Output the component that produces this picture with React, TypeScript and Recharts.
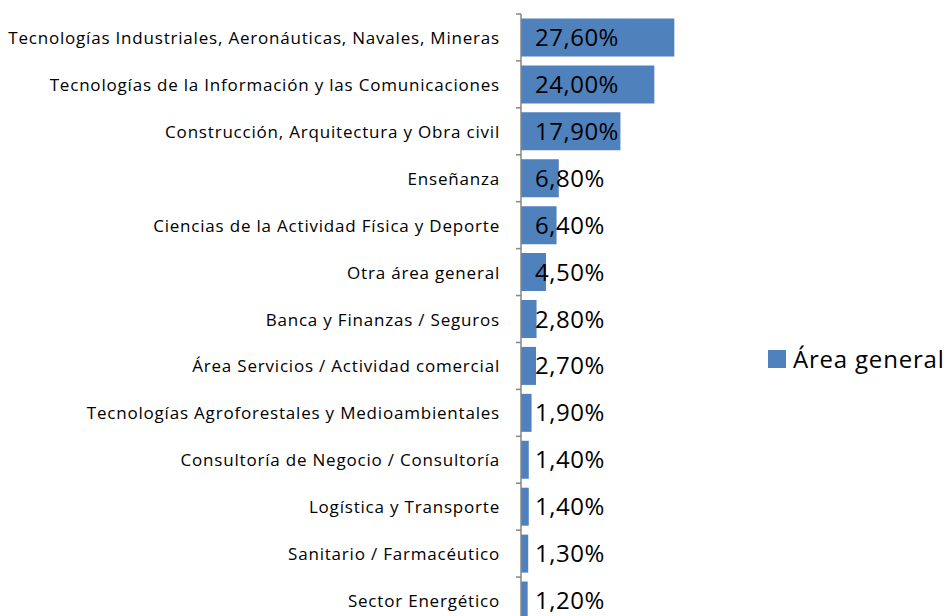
import { Bar, BarChart, LabelList, Legend, XAxis, YAxis } from "recharts";

const categories = [
  "Tecnologías Industriales, Aeronáuticas, Navales, Mineras",
  "Tecnologías de la Información y las Comunicaciones",
  "Construcción, Arquitectura y Obra civil",
  "Enseñanza",
  "Ciencias de la Actividad Física y Deporte",
  "Otra área general",
  "Banca y Finanzas / Seguros",
  "Área Servicios / Actividad comercial",
  "Tecnologías Agroforestales y Medioambientales",
  "Consultoría de Negocio / Consultoría",
  "Logística y Transporte",
  "Sanitario / Farmacéutico",
  "Sector Energético",
];

const areaGeneral = [27.6, 24.0, 17.9, 6.8, 6.4, 4.5, 2.8, 2.7, 1.9, 1.4, 1.4, 1.3, 1.2];

const seriesName = "Área general";

const FONT = "'Open Sans', 'Liberation Sans', sans-serif";
const BLUE = "#4f81bd";
const AXIS_GREY = "#868686";

const W = 949;
const H = 640;
const M = { top: 14, right: 208, bottom: 16, left: 0 };
const AXIS_W = 521;
const BAND = (H - M.top - M.bottom) / categories.length;

const data = categories.map((name, i) => ({ name, value: areaGeneral[i] }));

const fmt = (v: number) => `${v.toFixed(2).replace(".", ",")}%`;

// category label + excel style tick mark on the band boundary
function CatTick(props: any) {
  const { x, y, payload } = props;
  const ax = M.left + AXIS_W;
  return (
    <g>
      <line x1={ax - 5} x2={ax} y1={y - BAND / 2} y2={y - BAND / 2} stroke={AXIS_GREY} strokeWidth={1.5} />
      {payload.index === categories.length - 1 && (
        <line x1={ax - 5} x2={ax} y1={y + BAND / 2} y2={y + BAND / 2} stroke={AXIS_GREY} strokeWidth={1.5} />
      )}
      <text
        x={x}
        y={y}
        textAnchor="end"
        dominantBaseline="central"
        fill="#000"
        fontSize={17}
        letterSpacing={0.8}
        fontFamily={FONT}
      >
        {payload.value}
      </text>
    </g>
  );
}

function LegendBox() {
  return (
    <div
      style={{
        display: "flex",
        alignItems: "center",
        fontFamily: FONT,
        fontSize: 24,
        letterSpacing: 0.8,
        color: "#000",
        whiteSpace: "nowrap",
      }}
    >
      <span style={{ width: 18, height: 18, background: BLUE, display: "inline-block", marginRight: 7 }} />
      <span>{seriesName}</span>
    </div>
  );
}

export default function App() {
  return (
    <div style={{ position: "fixed", left: 0, top: 0, width: W, height: 616, overflow: "hidden", background: "#fff" }}>
      <BarChart width={W} height={H} data={data} layout="vertical" margin={M} barCategoryGap="9.5%">
        <XAxis type="number" hide domain={[0, 39.6]} />
        <YAxis
          type="category"
          dataKey="name"
          width={AXIS_W}
          axisLine={{ stroke: AXIS_GREY, strokeWidth: 1.5 }}
          tickLine={false}
          tickSize={6}
          tickMargin={15}
          interval={0}
          tick={<CatTick />}
        />
        <Legend
          layout="vertical"
          align="center"
          verticalAlign="middle"
          content={() => <LegendBox />}
          wrapperStyle={{ left: 768, top: 342, width: 190 }}
        />
        <Bar dataKey="value" name={seriesName} fill={BLUE} isAnimationActive={false}>
          <LabelList
            dataKey="value"
            position="insideLeft"
            offset={14}
            formatter={(v: number) => fmt(v)}
            style={{ fill: "#000", fontSize: 24, letterSpacing: 0.5, fontFamily: FONT }}
          />
        </Bar>
      </BarChart>
    </div>
  );
}
